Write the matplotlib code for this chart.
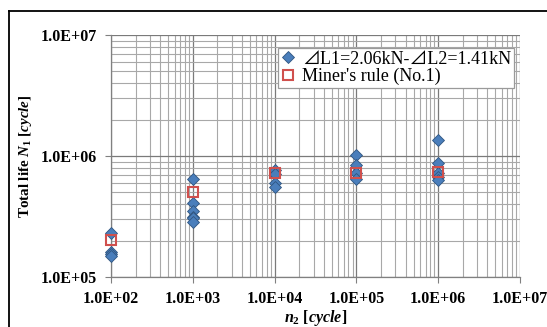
import matplotlib
matplotlib.use("Agg")
import matplotlib.pyplot as plt
from matplotlib.lines import Line2D
from matplotlib.ticker import LogLocator, NullFormatter, FixedLocator

plt.rcParams['mathtext.fontset'] = 'custom'
plt.rcParams['mathtext.rm'] = 'Liberation Serif:bold'
plt.rcParams['mathtext.it'] = 'Liberation Serif:italic:bold'
plt.rcParams['mathtext.bf'] = 'Liberation Serif:bold'

# data
test_n2 = [1e2, 1e2, 1e2, 1e2,
           1e3, 1e3, 1e3, 1e3, 1e3, 1e3,
           1e4, 1e4, 1e4, 1e4,
           1e5, 1e5, 1e5, 1e5,
           1e6, 1e6, 1e6, 1e6, 1e6]
test_life = [2.31e5, 1.61e5, 1.55e5, 1.49e5,
             6.46e5, 4.06e5, 3.53e5, 3.15e5, 3.05e5, 2.87e5,
             7.7e5, 7.1e5, 6.0e5, 5.55e5,
             1.02e6, 8.4e5, 7.3e5, 6.4e5,
             1.36e6, 8.7e5, 7.2e5, 6.75e5, 6.34e5]
miner_n2 = [1e2, 1e3, 1e4, 1e5, 1e6]
miner_life = [2.02e5, 5.0e5, 7.2e5, 7.3e5, 7.41e5]
xticks = [1e2, 1e3, 1e4, 1e5, 1e6, 1e7]
xticklabels = ['1.0E+02', '1.0E+03', '1.0E+04', '1.0E+05', '1.0E+06', '1.0E+07']
yticks = [1e5, 1e6, 1e7]
yticklabels = ['1.0E+05', '1.0E+06', '1.0E+07']
legend_labels = ['\u22bfL1=2.06kN-\u22bfL2=1.41kN', "Miner's rule (No.1)"]

W, H = 547, 327
fig = plt.figure(figsize=(W / 100, H / 100), dpi=100)
ax = fig.add_axes([111 / W, 1 - 277 / H, (520 - 111) / W, (277 - 35) / H])
ax.set_xscale('log')
ax.set_yscale('log')
ax.set_xlim(1e2, 1e7)
ax.set_ylim(1e5, 1e7)

ax.xaxis.set_major_locator(FixedLocator(xticks))
ax.yaxis.set_major_locator(FixedLocator(yticks))
ax.xaxis.set_minor_locator(LogLocator(base=10, subs=range(2, 10), numticks=20))
ax.yaxis.set_minor_locator(LogLocator(base=10, subs=range(2, 10), numticks=20))
ax.xaxis.set_minor_formatter(NullFormatter())
ax.yaxis.set_minor_formatter(NullFormatter())

tickfont = dict(family='Liberation Serif', weight='bold', size=11.5)
ax.set_xticklabels(xticklabels, **tickfont)
ax.set_yticklabels(yticklabels, **tickfont)
ax.tick_params(which='major', direction='out', length=4, width=0.8, color='#808080', pad=6)
ax.tick_params(which='minor', length=0)

ax.grid(True, which='major', color='#7a7a7a', lw=0.9)
ax.grid(True, which='minor', color='#a8a8a8', lw=0.8)
ax.set_axisbelow(True)
for s in ['top', 'right']:
    ax.spines[s].set_visible(False)
for s in ['left', 'bottom']:
    ax.spines[s].set_color('#808080')
    ax.spines[s].set_linewidth(0.9)

ax.plot(test_n2, test_life, linestyle='none', marker='D', markersize=5.7,
        markerfacecolor='#4a7ebb', markeredgecolor='#2f5580', markeredgewidth=0.6,
        label=legend_labels[0], clip_on=False, zorder=3)
ax.plot(miner_n2, miner_life, linestyle='none', marker='s', markersize=7.5,
        markerfacecolor='none', markeredgecolor='#d0504d', markeredgewidth=1.5,
        label=legend_labels[1], clip_on=False, zorder=4)

leg = ax.legend(loc='upper left', bbox_to_anchor=((278 - 111) / (520 - 111), 1 - (48 - 35) / 242),
                prop=dict(family=['Liberation Serif', 'Noto Sans CJK JP', 'DejaVu Sans'], size=13),
                frameon=True, fancybox=False, edgecolor='#9a9a9a', framealpha=1,
                handlelength=0.8, handletextpad=0.4, borderpad=0.15, labelspacing=0.0,
                borderaxespad=0)
leg.get_frame().set_linewidth(0.9)

ax.set_ylabel(r'Total life $N_{1}$ [$cycle$]', family='Liberation Serif',
              weight='bold', size=10.8, labelpad=5)
ax.set_xlabel(r'$n_{2}$ [$cycle$]', family='Liberation Serif',
              weight='bold', size=11.5, labelpad=1)

# outer frame (top and left edges visible in the reference)
fx, fy = 8.5 / W, 1 - 10.5 / H
fig.add_artist(Line2D([fx, 1.0], [fy, fy], transform=fig.transFigure, color='black', lw=1.3))
fig.add_artist(Line2D([fx, fx], [0.0, fy], transform=fig.transFigure, color='black', lw=1.3))

fig.savefig('out.png', dpi=100)
